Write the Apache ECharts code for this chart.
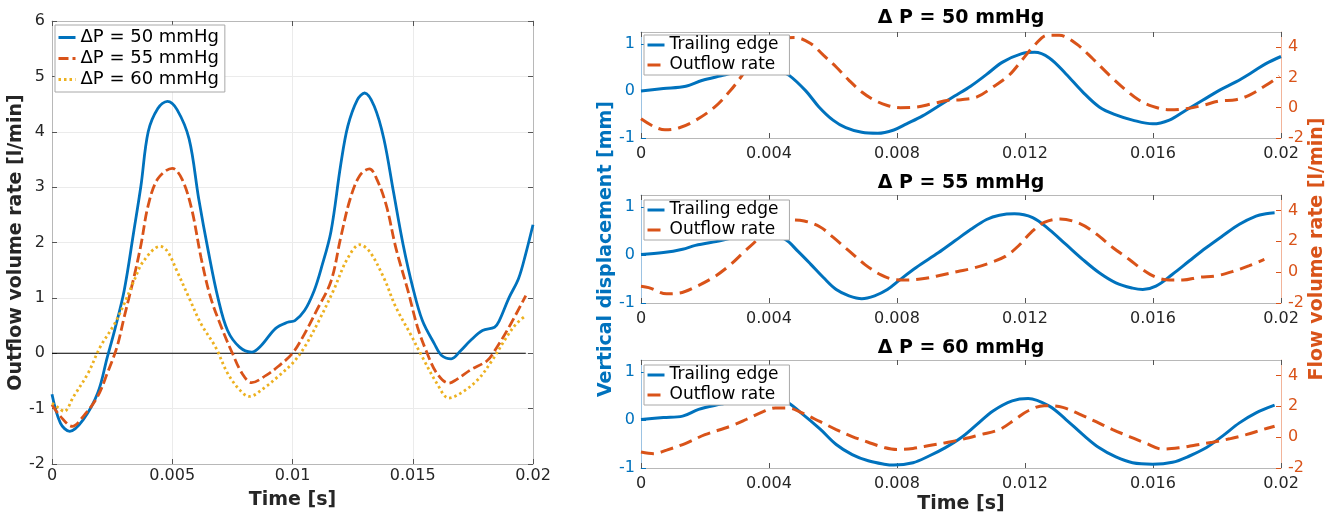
<!DOCTYPE html>
<html>
<head>
<meta charset="utf-8">
<script src="https://cdn.jsdelivr.net/npm/echarts@6/dist/echarts.min.js"></script>
<style>
  html, body { margin: 0; padding: 0; background: #fff; }
  #main { width: 1333px; height: 515px; }
</style>
</head>
<body>
<div id="main"></div>
<script>
// ---- data: [time s, value] ----
// left panel: outflow volume rate [l/min]
const flow50 = [[0,-0.74],[0.00035,-1.26],[0.00074,-1.41],[0.0013,-1.2],[0.0019,-0.72],[0.0023,-0.07],[0.0026,0.41],[0.003,1.13],[0.0034,2.2],[0.0037,3.03],[0.004,4.0],[0.0044,4.42],[0.0048,4.55],[0.0052,4.4],[0.0057,3.87],[0.0061,2.79],[0.0065,1.84],[0.0069,1.0],[0.0073,0.41],[0.0078,0.11],[0.0083,0.02],[0.0087,0.14],[0.0093,0.45],[0.0098,0.56],[0.0101,0.59],[0.0105,0.77],[0.0109,1.13],[0.0112,1.54],[0.0116,2.2],[0.012,3.39],[0.0123,4.1],[0.0127,4.58],[0.013,4.7],[0.0134,4.46],[0.0138,3.87],[0.0142,2.91],[0.0146,1.96],[0.015,1.19],[0.0154,0.59],[0.0159,0.17],[0.0162,-0.04],[0.0166,-0.1],[0.017,0.05],[0.0174,0.23],[0.0179,0.41],[0.0184,0.47],[0.0186,0.59],[0.019,1.0],[0.0194,1.35],[0.0197,1.8],[0.02,2.32]];
const flow55 = [[0,-0.93],[0.00035,-1.14],[0.00084,-1.32],[0.0013,-1.14],[0.0019,-0.78],[0.0023,-0.36],[0.0027,0.11],[0.003,0.65],[0.0034,1.36],[0.0037,1.96],[0.004,2.67],[0.0044,3.15],[0.005,3.34],[0.0054,3.15],[0.0058,2.62],[0.0062,1.72],[0.0066,1.0],[0.0071,0.41],[0.0075,0],[0.0079,-0.36],[0.0083,-0.53],[0.0089,-0.4],[0.0094,-0.24],[0.01,0],[0.0105,0.35],[0.011,0.77],[0.0116,1.3],[0.012,2.08],[0.0124,2.79],[0.0128,3.21],[0.0132,3.33],[0.0135,3.15],[0.0139,2.67],[0.0143,1.9],[0.0148,1.13],[0.0152,0.47],[0.0156,0],[0.016,-0.36],[0.0165,-0.54],[0.0168,-0.48],[0.0174,-0.3],[0.0181,-0.13],[0.0185,0.11],[0.019,0.47],[0.0197,1.04]];
const flow60 = [[0,-0.9],[0.00028,-0.99],[0.0005,-1.05],[0.0009,-0.78],[0.0015,-0.36],[0.002,0.11],[0.0026,0.53],[0.003,0.89],[0.0034,1.3],[0.0038,1.66],[0.0045,1.93],[0.0048,1.84],[0.0052,1.48],[0.0057,1.0],[0.0062,0.53],[0.0068,0.11],[0.0073,-0.36],[0.0078,-0.66],[0.0082,-0.78],[0.0089,-0.6],[0.0094,-0.42],[0.01,-0.18],[0.0105,0.11],[0.0111,0.59],[0.0117,1.13],[0.0123,1.72],[0.0128,1.96],[0.0132,1.84],[0.0138,1.36],[0.0143,0.83],[0.0149,0.35],[0.0154,-0.07],[0.016,-0.54],[0.0165,-0.81],[0.017,-0.72],[0.0177,-0.48],[0.0183,-0.13],[0.0189,0.29],[0.0193,0.53],[0.0197,0.68]];
const zeroLine = [[0,0],[0.0197,0]];

// right panels: trailing edge displacement [mm] and outflow rate [l/min]
const disp50 = [[0,0],[0.0007,0.05],[0.0014,0.1],[0.0019,0.22],[0.0025,0.32],[0.003,0.4],[0.0035,0.46],[0.004,0.47],[0.0043,0.43],[0.00463,0.33],[0.00515,0],[0.00556,-0.34],[0.006,-0.62],[0.0064,-0.78],[0.0069,-0.88],[0.0074,-0.9],[0.0079,-0.83],[0.0083,-0.7],[0.0088,-0.53],[0.0093,-0.32],[0.0098,-0.11],[0.0103,0.1],[0.0108,0.35],[0.0113,0.61],[0.0119,0.79],[0.0123,0.82],[0.01276,0.7],[0.01328,0.36],[0.0138,-0.02],[0.01432,-0.34],[0.01484,-0.51],[0.01536,-0.62],[0.01599,-0.7],[0.01651,-0.62],[0.01703,-0.41],[0.01755,-0.2],[0.01807,0.01],[0.01859,0.19],[0.01911,0.4],[0.01953,0.58],[0.02,0.73]];
const rate50 = [[0,-0.73],[0.0004,-1.24],[0.00075,-1.46],[0.0012,-1.32],[0.0017,-0.84],[0.0023,0.04],[0.0028,1.15],[0.0032,2.25],[0.0036,3.47],[0.004,4.24],[0.0044,4.57],[0.0048,4.64],[0.0053,4.24],[0.0057,3.47],[0.0061,2.69],[0.0065,1.81],[0.0069,1.04],[0.0073,0.49],[0.0077,0.15],[0.0081,0],[0.0086,0.04],[0.0091,0.26],[0.0096,0.49],[0.01,0.53],[0.0105,0.71],[0.011,1.37],[0.0115,2.14],[0.0119,3.13],[0.0123,4.13],[0.0127,4.79],[0.01307,4.79],[0.01359,4.24],[0.01411,3.25],[0.01464,2.14],[0.01516,1.15],[0.01557,0.49],[0.01599,0.09],[0.01651,-0.13],[0.01703,-0.07],[0.01755,0.15],[0.01807,0.44],[0.01859,0.53],[0.019,0.82],[0.01953,1.48],[0.01995,2.08]];
const disp55 = [[0,0.01],[0.0007,0.05],[0.0013,0.12],[0.0017,0.2],[0.0025,0.3],[0.003,0.38],[0.0035,0.42],[0.004,0.42],[0.0045,0.33],[0.0049,0.08],[0.0053,-0.19],[0.0057,-0.47],[0.0061,-0.72],[0.0065,-0.85],[0.0069,-0.91],[0.0073,-0.85],[0.0077,-0.72],[0.0081,-0.51],[0.0086,-0.26],[0.0093,0.05],[0.0098,0.29],[0.0103,0.53],[0.0108,0.74],[0.0112,0.83],[0.01167,0.86],[0.01224,0.78],[0.01276,0.53],[0.01328,0.22],[0.0138,-0.09],[0.01432,-0.37],[0.01484,-0.58],[0.01536,-0.69],[0.01568,-0.72],[0.01609,-0.65],[0.01661,-0.4],[0.01714,-0.12],[0.01766,0.15],[0.01818,0.4],[0.0187,0.64],[0.01922,0.81],[0.01953,0.86],[0.0198,0.88]];
const rate55 = [[0,-0.91],[0.00024,-1.0],[0.0008,-1.4],[0.0012,-1.36],[0.0017,-0.96],[0.0023,-0.29],[0.0028,0.49],[0.0032,1.27],[0.0036,2.04],[0.004,2.93],[0.0046,3.38],[0.0051,3.31],[0.0056,2.93],[0.006,2.27],[0.0065,1.38],[0.007,0.49],[0.0075,-0.18],[0.0079,-0.47],[0.0083,-0.51],[0.0089,-0.4],[0.0094,-0.18],[0.0099,0.04],[0.0104,0.27],[0.0109,0.6],[0.0114,1.04],[0.0118,1.71],[0.0122,2.6],[0.0126,3.22],[0.0131,3.44],[0.0137,3.16],[0.01422,2.49],[0.01474,1.6],[0.01526,0.82],[0.01568,0.16],[0.01609,-0.33],[0.01651,-0.51],[0.01693,-0.51],[0.01745,-0.33],[0.01797,-0.24],[0.01849,0.04],[0.01901,0.42],[0.01948,0.82]];
const disp60 = [[0,0.01],[0.0007,0.05],[0.0013,0.08],[0.0018,0.22],[0.0025,0.33],[0.003,0.4],[0.0035,0.45],[0.004,0.46],[0.0045,0.4],[0.005,0.15],[0.0056,-0.19],[0.0061,-0.51],[0.0066,-0.72],[0.0071,-0.85],[0.0076,-0.92],[0.0079,-0.94],[0.0085,-0.89],[0.009,-0.75],[0.0095,-0.58],[0.01,-0.37],[0.0105,-0.09],[0.011,0.19],[0.0116,0.4],[0.0121,0.45],[0.01276,0.29],[0.01328,0.01],[0.0138,-0.3],[0.01432,-0.58],[0.01484,-0.77],[0.01536,-0.89],[0.01599,-0.92],[0.01661,-0.88],[0.01714,-0.75],[0.01766,-0.58],[0.01818,-0.33],[0.0187,-0.06],[0.01922,0.15],[0.0198,0.31]];
const rate60 = [[0,-0.96],[0.0004,-1.07],[0.0008,-0.84],[0.0014,-0.4],[0.002,0.16],[0.0028,0.71],[0.0033,1.16],[0.0038,1.64],[0.0042,1.89],[0.0046,1.89],[0.005,1.6],[0.0056,1.0],[0.0061,0.49],[0.0066,0.04],[0.0071,-0.33],[0.0076,-0.67],[0.008,-0.8],[0.0085,-0.73],[0.0091,-0.51],[0.0096,-0.33],[0.0101,-0.11],[0.0106,0.16],[0.0112,0.49],[0.0117,1.16],[0.0121,1.71],[0.0126,2.04],[0.01318,1.93],[0.0137,1.49],[0.01422,1.0],[0.01474,0.49],[0.01526,0.04],[0.01578,-0.4],[0.0163,-0.78],[0.01682,-0.69],[0.01734,-0.51],[0.01786,-0.33],[0.01839,-0.11],[0.01891,0.16],[0.01943,0.49],[0.0198,0.71]];

const leftNames = ["ΔP = 50 mmHg", "ΔP = 55 mmHg", "ΔP = 60 mmHg"];
const panelTitles = ["Δ P = 50 mmHg", "Δ P = 55 mmHg", "Δ P = 60 mmHg"];
const rightNames = ["Trailing edge", "Outflow rate"];

const BLUE = "#0072BD", ORANGE = "#D95319", YELLOW = "#EDB120";
const FONT = "DejaVu Sans";
const TXT = "#262626";
const BOX = "#b8b8b8";

const chart = echarts.init(document.getElementById("main"));

const fmtT = (v) => (v === 0 ? "0" : String(+v.toFixed(4)));

// bottom x axis + a mirrored top one (ticks only) for every panel
const xAxes = [];
for (let g = 0; g < 4; g++) {
  const left = g === 0;
  xAxes.push({
    type: "value", gridIndex: g, position: "bottom", min: 0, max: 0.02, interval: left ? 0.005 : 0.004,
    axisLine: { onZero: false, lineStyle: { color: BOX, width: 1 } },
    axisTick: { inside: true, length: 5, lineStyle: { color: "#555" } },
    axisLabel: { color: TXT, fontFamily: FONT, fontSize: 16, margin: left ? 4 : 8, formatter: fmtT },
    splitLine: { show: left, lineStyle: { color: "#ebebeb" } },
    name: g === 0 || g === 3 ? "Time [s]" : "",
    nameLocation: "middle", nameGap: 27,
    nameTextStyle: { color: TXT, fontFamily: FONT, fontSize: 19, fontWeight: "bold" },
  });
  xAxes.push({
    type: "value", gridIndex: g, position: "top", min: 0, max: 0.02, interval: left ? 0.005 : 0.004,
    axisLine: { onZero: false, lineStyle: { color: BOX, width: 1 } },
    axisTick: { inside: true, length: 5, lineStyle: { color: "#555" } },
    axisLabel: { show: false }, splitLine: { show: false },
  });
}

const yAxes = [
  {
    type: "value", gridIndex: 0, position: "left", min: -2, max: 6, interval: 1,
    axisLine: { show: true, onZero: false, lineStyle: { color: BOX } },
    axisTick: { show: true, inside: true, length: 5, lineStyle: { color: "#555" } },
    axisLabel: { color: TXT, fontFamily: FONT, fontSize: 16, margin: 7 },
    splitLine: { show: true, lineStyle: { color: "#ebebeb" } },
    name: "Outflow volume rate [l/min]", nameLocation: "middle", nameGap: 25, nameRotate: 90,
    nameTextStyle: { color: TXT, fontFamily: FONT, fontSize: 19, fontWeight: "bold" },
  },
  {
    type: "value", gridIndex: 0, position: "right", min: -2, max: 6, interval: 1,
    axisLine: { show: true, onZero: false, lineStyle: { color: BOX } },
    axisTick: { show: true, inside: true, length: 5, lineStyle: { color: "#555" } },
    axisLabel: { show: false }, splitLine: { show: false },
  },
];
for (let p = 0; p < 3; p++) {
  const g = p + 1;
  yAxes.push({
    type: "value", gridIndex: g, position: "left", min: -1, max: 1.25, interval: 1,
    axisLine: { show: true, onZero: false, lineStyle: { color: "#9cc3e3" } },
    axisTick: { show: true, inside: true, length: 5, lineStyle: { color: BLUE } },
    axisLabel: { color: BLUE, fontFamily: FONT, fontSize: 16, margin: 6, showMaxLabel: false },
    splitLine: { show: false },
    name: p === 1 ? "Vertical displacement [mm]" : "",
    nameLocation: "middle", nameGap: 25, nameRotate: 90,
    nameTextStyle: { color: BLUE, fontFamily: FONT, fontSize: 19, fontWeight: "bold" },
  });
  yAxes.push({
    type: "value", gridIndex: g, position: "right", min: -2, max: 5, interval: 2,
    axisLine: { show: true, onZero: false, lineStyle: { color: "#f2b49a" } },
    axisTick: { show: true, inside: true, length: 5, lineStyle: { color: ORANGE } },
    axisLabel: { color: ORANGE, fontFamily: FONT, fontSize: 16, margin: 7, showMaxLabel: false },
    splitLine: { show: false },
    name: p === 1 ? "Flow volume rate [l/min]" : "",
    nameLocation: "middle", nameGap: 27, nameRotate: 90,
    nameTextStyle: { color: ORANGE, fontFamily: FONT, fontSize: 19, fontWeight: "bold" },
  });
}

const series = [
  {
    name: "zero", type: "line", xAxisIndex: 0, yAxisIndex: 0, data: zeroLine, symbol: "none",
    lineStyle: { color: "#000", width: 1.2 }, z: 1, silent: true,
  },
  {
    name: leftNames[0], type: "line", xAxisIndex: 0, yAxisIndex: 0, data: flow50, symbol: "none", smooth: 0.35,
    lineStyle: { color: BLUE, width: 2.8 }, itemStyle: { color: BLUE },
  },
  {
    name: leftNames[1], type: "line", xAxisIndex: 0, yAxisIndex: 0, data: flow55, symbol: "none", smooth: 0.35,
    lineStyle: { color: ORANGE, width: 2.8, type: [10, 4] }, itemStyle: { color: ORANGE },
  },
  {
    name: leftNames[2], type: "line", xAxisIndex: 0, yAxisIndex: 0, data: flow60, symbol: "none", smooth: 0.35,
    lineStyle: { color: YELLOW, width: 2.8, type: [2.5, 3] }, itemStyle: { color: YELLOW },
  },
];
const dispSets = [disp50, disp55, disp60];
const rateSets = [rate50, rate55, rate60];
for (let p = 0; p < 3; p++) {
  series.push({
    name: rightNames[0], type: "line", xAxisIndex: 2 + 2 * p, yAxisIndex: 2 + 2 * p,
    data: dispSets[p], symbol: "none", smooth: 0.35,
    lineStyle: { color: BLUE, width: 3 }, itemStyle: { color: BLUE },
  });
  series.push({
    name: rightNames[1], type: "line", xAxisIndex: 2 + 2 * p, yAxisIndex: 3 + 2 * p,
    data: rateSets[p], symbol: "none", smooth: 0.35,
    lineStyle: { color: ORANGE, width: 3, type: [13, 7] }, itemStyle: { color: ORANGE },
  });
}

// legend icons: line only, no marker
const legends = [
  {
    data: leftNames, orient: "vertical", left: 55, top: 25, itemWidth: 17, itemHeight: 14, itemGap: 0,
    padding: [2, 6, 2, 2], backgroundColor: "#fff", borderColor: "#a8a8a8", borderWidth: 1,
    selectedMode: false, itemStyle: { opacity: 0 }, lineStyle: { width: 3 },
    textStyle: { color: "#000", fontFamily: FONT, fontSize: 18, lineHeight: 21 },
  },
];
const legendTops = [35, 200, 365];
for (let p = 0; p < 3; p++) {
  legends.push({
    data: rightNames, orient: "vertical", left: 644, top: legendTops[p], itemWidth: 17, itemHeight: 14, itemGap: 0,
    padding: [0, 11, 0, 2], backgroundColor: "#fff", borderColor: "#a8a8a8", borderWidth: 1,
    selectedMode: false, itemStyle: { opacity: 0 }, lineStyle: { width: 3 },
    textStyle: { color: "#000", fontFamily: FONT, fontSize: 17, lineHeight: 20 },
  });
}

const titleY = [18, 183, 348];
const graphics = panelTitles.map((t, i) => ({
  type: "text", x: 961, y: titleY[i],
  style: { text: t, fill: "#000", font: "bold 19px '" + FONT + "'", textAlign: "center", textVerticalAlign: "middle" },
}));

chart.setOption({
  animation: false,
  backgroundColor: "#fff",
  grid: [
    { left: 52, top: 21, width: 481, height: 447 },
    { left: 641, top: 32, width: 640, height: 106 },
    { left: 641, top: 195, width: 640, height: 108 },
    { left: 641, top: 360, width: 640, height: 108 },
  ],
  xAxis: xAxes,
  yAxis: yAxes,
  legend: legends,
  graphic: graphics,
  series: series,
});
</script>
</body>
</html>
